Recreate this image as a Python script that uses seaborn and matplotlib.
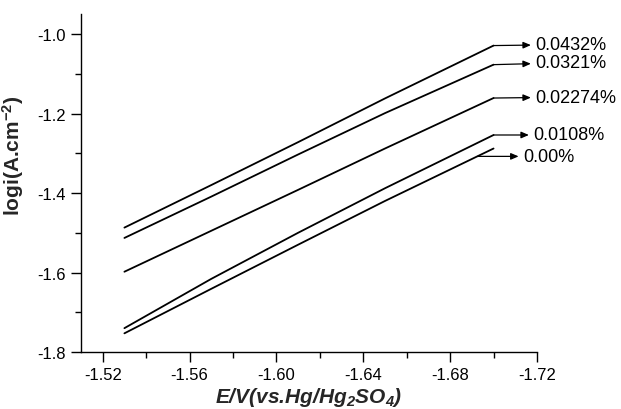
import numpy as np
import pandas as pd
import matplotlib
matplotlib.use("Agg")
import matplotlib.pyplot as plt
import seaborn as sns
from matplotlib.ticker import MultipleLocator

# ---- data ----
potential = [-1.53, -1.57, -1.61, -1.65, -1.70]
conc_labels = ["0.0432%", "0.0321%", "0.02274%", "0.0108%", "0.00%"]
logi_00432 = [-1.487, -1.380, -1.272, -1.162, -1.029]
logi_00321 = [-1.513, -1.409, -1.303, -1.199, -1.077]
logi_002274 = [-1.598, -1.495, -1.392, -1.288, -1.161]
logi_00108 = [-1.740, -1.616, -1.500, -1.388, -1.254]
logi_000 = [-1.753, -1.641, -1.530, -1.420, -1.288]
x_ticks = [-1.52, -1.56, -1.60, -1.64, -1.68, -1.72]
y_ticks = [-1.8, -1.6, -1.4, -1.2, -1.0]

series = [logi_00432, logi_00321, logi_002274, logi_00108, logi_000]
df = pd.DataFrame({
    "E": np.tile(potential, len(series)),
    "logi": np.concatenate(series),
    "conc": np.repeat(conc_labels, len(potential)),
})

sns.set_theme(style="ticks")
plt.rcParams["font.family"] = ["Liberation Sans", "DejaVu Sans"]
plt.rcParams["axes.unicode_minus"] = False
plt.rcParams["mathtext.default"] = "regular"

fig = plt.figure(figsize=(6.21, 4.10), dpi=100)
ax = fig.add_axes([0.1304, 0.139, 0.7343, 0.824])

sns.lineplot(data=df, x="E", y="logi", hue="conc", hue_order=conc_labels,
             palette=["black"] * len(conc_labels), legend=False, ax=ax,
             linewidth=1.3, sort=False)

ax.set_xlim(-1.51, -1.72)
ax.set_ylim(-1.8, -0.95)
ax.set_xticks(x_ticks)
ax.set_xticklabels([f"{v:.2f}" for v in x_ticks])
ax.set_yticks(y_ticks)
ax.set_yticklabels([f"{v:.1f}" for v in y_ticks])
ax.xaxis.set_minor_locator(MultipleLocator(0.02))
ax.yaxis.set_minor_locator(MultipleLocator(0.1))
ax.tick_params(which="major", direction="out", length=7, width=1.0,
               labelsize=12, colors="black", pad=4)
ax.tick_params(which="minor", direction="out", length=4, width=1.0, colors="black")
sns.despine(ax=ax)
for s in ["left", "bottom"]:
    ax.spines[s].set_color("black")
    ax.spines[s].set_linewidth(1.0)

ax.set_xlabel("E/V(vs.Hg/Hg$_2$SO$_4$)", fontsize=15, fontweight="bold",
              fontstyle="italic", labelpad=2)
ax.set_ylabel("logi(A.cm$^{-2}$)", fontsize=15, fontweight="bold")
ax.yaxis.set_label_coords(-0.12, 0.583)

# annotations with arrows pointing to labels
arrow_starts = [-1.70, -1.70, -1.70, -1.70, -1.6925]
text_dx = [42, 42, 42, 40, 46]
text_dy = [1, 2, 1, 0, 0]
for lab, ys, xs, dx, dy in zip(conc_labels, series, arrow_starts, text_dx, text_dy):
    y0 = float(np.interp(-xs, [-v for v in potential], ys))
    ax.annotate(lab, xy=(xs, y0), xytext=(dx, dy), textcoords="offset pixels",
                ha="left", va="center", fontsize=13, color="black",
                arrowprops=dict(arrowstyle="<|-,head_length=0.35,head_width=0.15",
                                color="black", lw=0.9, shrinkA=1, shrinkB=0))

fig.savefig("out.png", dpi=100, facecolor="white")
